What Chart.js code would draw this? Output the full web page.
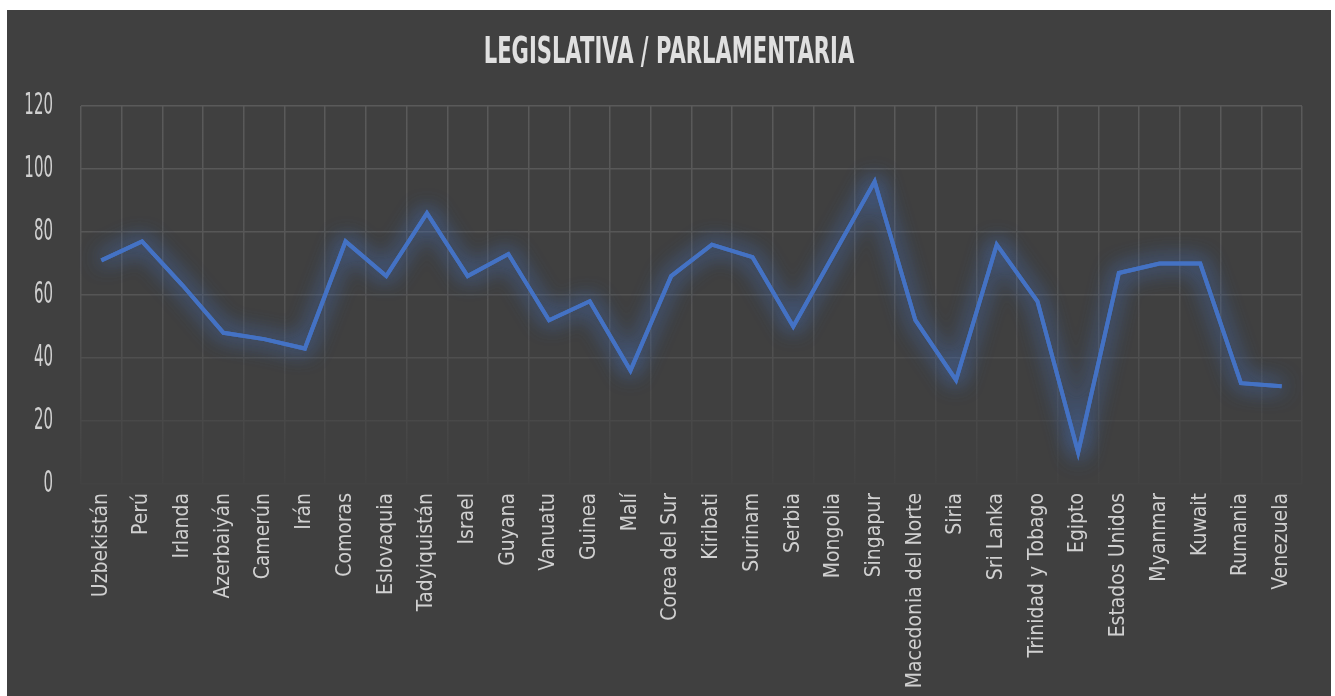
<!DOCTYPE html>
<html>
<head>
<meta charset="utf-8">
<script src="https://cdn.jsdelivr.net/npm/chart.js@4.4.1/dist/chart.umd.min.js"></script>
<style>
  body { margin: 0; background: #ffffff; }
  #wrap {
    position: absolute; left: 7px; top: 10px;
    width: 1324px; height: 686px;
    background: #404040;
  }
</style>
</head>
<body>
<div id="wrap"><canvas id="myChart" width="1324" height="686"></canvas></div>
<script>
const paises = ['Uzbekistán', 'Perú', 'Irlanda', 'Azerbaiyán', 'Camerún', 'Irán', 'Comoras',
  'Eslovaquia', 'Tadyiquistán', 'Israel', 'Guyana', 'Vanuatu', 'Guinea', 'Malí', 'Corea del Sur',
  'Kiribati', 'Surinam', 'Serbia', 'Mongolia', 'Singapur', 'Macedonia del Norte', 'Siria',
  'Sri Lanka', 'Trinidad y Tobago', 'Egipto', 'Estados Unidos', 'Myanmar', 'Kuwait', 'Rumania',
  'Venezuela']
const valores = [71, 77, 63, 48, 46, 43, 77, 66, 86, 66, 73, 52, 58, 36, 66, 76, 72, 50, 73, 96,
  52, 33, 76, 58, 10, 67, 70, 70, 32, 31]
const yTicks = [0, 20, 40, 60, 80, 100, 120]

const fuente = '"DejaVu Sans", sans-serif'

// no condensed font installed: squeeze glyphs horizontally depending on font size
function factor(font) {
  const m = font.match(/(\d+(\.\d+)?)px/)
  const size = m ? parseFloat(m[1]) : 12
  if (size >= 34) return 0.57 // title
  if (size >= 26) return 0.5 // y ticks
  return 0.92 // x labels
}
const proto = CanvasRenderingContext2D.prototype
const fillOrig = proto.fillText
proto.fillText = function (text, x, y, maxWidth) {
  const f = factor(this.font)
  this.save()
  this.translate(x, y)
  this.scale(f, 1)
  fillOrig.call(this, text, 0, 0)
  this.restore()
}
const measureOrig = proto.measureText
proto.measureText = function (text) {
  const m = measureOrig.call(this, text)
  return { width: m.width * factor(this.font), actualBoundingBoxAscent: m.actualBoundingBoxAscent,
    actualBoundingBoxDescent: m.actualBoundingBoxDescent }
}

// grid fades out toward the bottom
function gridColor(c) {
  const area = c.chart.chartArea
  if (!area) return '#595959'
  const g = c.chart.ctx.createLinearGradient(0, area.top, 0, area.bottom)
  g.addColorStop(0, '#5a5a5a')
  g.addColorStop(0.5, '#555555')
  g.addColorStop(1, '#424242')
  return g
}

const glow = {
  id: 'glow',
  beforeDatasetDraw(chart) {
    const ctx = chart.ctx
    ctx.save()
    ctx.shadowColor = 'rgba(68, 114, 196, 0.9)'
    ctx.shadowBlur = 22
  },
  afterDatasetDraw(chart, args) {
    // second pass makes the halo stronger
    args.meta.dataset.draw(chart.ctx, chart.chartArea)
    chart.ctx.restore()
  }
}

// center the title on the whole canvas, not just the padded area
const tituloCentro = {
  id: 'tituloCentro',
  afterLayout(chart) {
    const t = chart.titleBlock
    if (t) { t.left = 0; t.right = chart.width; t.width = chart.width }
  }
}

const ctx = document.getElementById('myChart').getContext('2d')
const chart = new Chart(ctx, {
  type: 'line',
  data: {
    labels: paises,
    datasets: [{
      data: valores,
      borderColor: '#4472C4',
      borderWidth: 4,
      pointRadius: 0,
      tension: 0,
      fill: false
    }]
  },
  options: {
    responsive: false,
    animation: false,
    layout: { padding: { left: 0, right: 29, top: 0, bottom: 0 } },
    plugins: {
      legend: { display: false },
      tooltip: { enabled: false },
      title: {
        display: true,
        text: 'LEGISLATIVA / PARLAMENTARIA',
        color: '#e0e0e0',
        font: { family: fuente, size: 37, weight: 'bold', lineHeight: 1.2 },
        padding: { top: 21, bottom: 30.6 }
      }
    },
    scales: {
      x: {
        offset: true,
        grid: { offset: true, color: gridColor, lineWidth: 1.5, drawTicks: false },
        border: { display: false },
        ticks: {
          color: '#d0d0d0',
          font: { family: fuente, size: 20.5 },
          minRotation: 90,
          maxRotation: 90,
          autoSkip: false,
          padding: 9
        },
        afterFit(scale) { scale.height = 212 }
      },
      y: {
        min: 0,
        max: 120,
        afterBuildTicks(scale) { scale.ticks = yTicks.map(v => ({ value: v })) },
        grid: { color: gridColor, lineWidth: 1.5, drawTicks: false },
        border: { display: false },
        ticks: {
          color: '#d0d0d0',
          font: { family: fuente, size: 30 },
          padding: 28
        },
        afterFit(scale) { scale.width = 74 }
      }
    }
  },
  plugins: [glow, tituloCentro]
})
</script>
</body>
</html>
